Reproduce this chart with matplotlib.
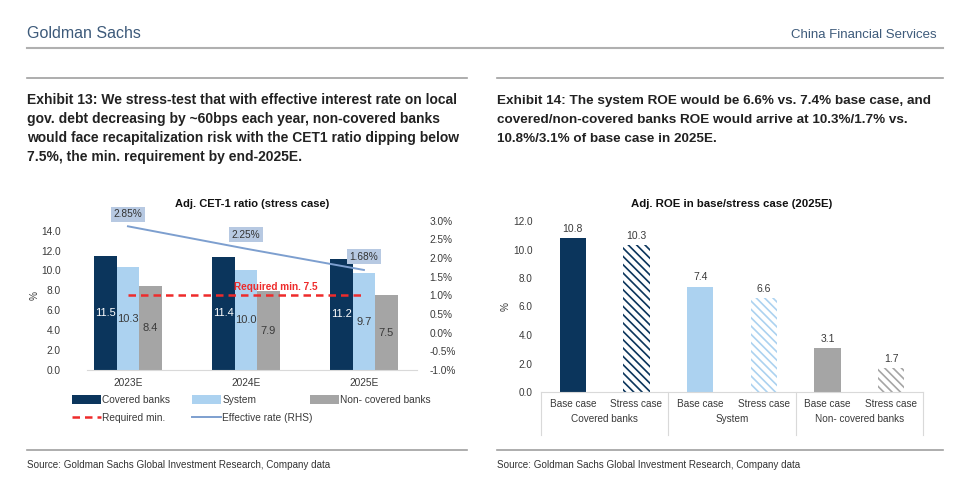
import numpy as np
import matplotlib
matplotlib.use('Agg')
import matplotlib.pyplot as plt
from matplotlib.lines import Line2D

plt.rcParams['font.family'] = ['Liberation Sans', 'DejaVu Sans']
plt.rcParams['hatch.linewidth'] = 1.2

# 左图数据
years = ['2023E', '2024E', '2025E']
covered = [11.5, 11.4, 11.2]
system = [10.3, 10.0, 9.7]
non_covered = [8.4, 7.9, 7.5]
required_min = 7.5
eff_rate = [2.85, 2.25, 1.68]
eff_labels = ['2.85%', '2.25%', '1.68%']

# 右图数据
roe_cases = ['Base case', 'Stress case'] * 3
roe_groups = ['Covered banks', 'System', 'Non- covered banks']
roe_values = [10.8, 10.3, 7.4, 6.6, 3.1, 1.7]

NAVY = '#0b355c'
LIGHT = '#acd2f0'
GRAY = '#a5a5a5'
TXT = '#3a3a3a'
NARROW = ['Liberation Sans Narrow', 'Liberation Sans', 'DejaVu Sans']

fig = plt.figure(figsize=(9.6, 4.93), dpi=100)
W, H = 960, 493


def fx(px):
    return px / W


def fy(py):
    return 1 - py / H


# 页眉
fig.text(fx(27), fy(33), 'Goldman Sachs', family=NARROW, fontsize=11.5, color='#3d5a7a', va='center')
fig.text(fx(937), fy(35), 'China Financial Services', family=NARROW, fontsize=9.5, color='#3d5a7a',
         va='center', ha='right')
fig.add_artist(Line2D([fx(27), fx(943)], [fy(48), fy(48)], color='#b0b0b0', lw=1.5))
for x0, x1 in [(27, 467), (497, 943)]:
    fig.add_artist(Line2D([fx(x0), fx(x1)], [fy(78), fy(78)], color='#a0a0a0', lw=1.2))
    fig.add_artist(Line2D([fx(x0), fx(x1)], [fy(450), fy(450)], color='#a0a0a0', lw=1.2))
    fig.text(fx(x0), fy(465), 'Source: Goldman Sachs Global Investment Research, Company data',
             family=NARROW, fontsize=7.1, color='#333333', va='center')

ex13 = ['Exhibit 13: We stress-test that with effective interest rate on local',
        'gov. debt decreasing by ~60bps each year, non-covered banks',
        'would face recapitalization risk with the CET1 ratio dipping below',
        '7.5%, the min. requirement by end-2025E.']
ex14 = ['Exhibit 14: The system ROE would be 6.6% vs. 7.4% base case, and',
        'covered/non-covered banks ROE would arrive at 10.3%/1.7% vs.',
        '10.8%/3.1% of base case in 2025E.']
for lines, x0, fs in [(ex13, 27, 10), (ex14, 497, 9.7)]:
    for i, line in enumerate(lines):
        fig.text(fx(x0), fy(104 + 19 * i), line, family=NARROW, fontsize=fs, fontweight='bold',
                 color='#222222', va='baseline')

# ---------- 左图 ----------
ax = fig.add_axes([fx(87), fy(370), fx(417) - fx(87), fy(220.7) - fy(370)])
x = np.arange(len(years))
bw = 0.19
b1 = ax.bar(x - bw, covered, bw, color=NAVY, label='Covered banks')
b2 = ax.bar(x, system, bw, color=LIGHT, label='System')
b3 = ax.bar(x + bw, non_covered, bw, color=GRAY, label='Non- covered banks')
for bars, vals, c in [(b1, covered, 'white'), (b2, system, TXT), (b3, non_covered, TXT)]:
    for r, v in zip(bars, vals):
        ax.text(r.get_x() + r.get_width() / 2, v / 2, f'{v:.1f}', ha='center', va='center',
                fontsize=8, color=c)
req, = ax.plot([x[0], x[-1]], [required_min, required_min], color='#ee2b2b', lw=1.8,
               linestyle=(0, (3, 2)), label='Required min.')
ax.text(1.25, 8.3, f'Required min. {required_min}', color='#ee2b2b', fontsize=7.2,
        fontweight='bold', ha='center', va='center')
ax.set_xlim(-0.347, 2.45)
ax.set_ylim(0, 15)
ax.set_yticks(np.arange(0, 15, 2))
ax.set_yticklabels([f'{v:.1f}' for v in np.arange(0, 15, 2)])
ax.set_xticks(x)
ax.set_xticklabels(years)
ax.tick_params(length=0, labelsize=7.3, colors=TXT, pad=6)
ax.tick_params(axis='y', pad=19)
for s in ['top', 'right', 'left']:
    ax.spines[s].set_visible(False)
ax.spines['bottom'].set_color('#d9d9d9')
ax.set_ylabel('%', fontsize=7.3, color=TXT)
ax.yaxis.set_label_coords(-0.144, 0.5)

ax2 = ax.twinx()
ln, = ax2.plot(x, eff_rate, color='#7d9fcf', lw=1.4, label='Effective rate (RHS)')
ax2.set_ylim(-1.0, 3.0)
rt = np.arange(-1.0, 3.01, 0.5)
ax2.set_yticks(rt)
ax2.set_yticklabels([f'{v:.1f}%' for v in rt])
ax2.tick_params(length=0, labelsize=7.3, colors=TXT, pad=9)
for s in ax2.spines.values():
    s.set_visible(False)
lab_y = [3.17, 2.62, 2.03]
for xi, yv, t in zip(x, lab_y, eff_labels):
    ax2.text(xi, yv, t, ha='center', va='center', fontsize=7.3, color='#333333',
             bbox=dict(boxstyle='square,pad=0.25', fc='#b7c9e2', ec='none'))

ax.set_title('Adj. CET-1 ratio (stress case)', fontsize=8, fontweight='bold', color='#111111',
             pad=10)

# 图例：三列分别放置
leg_kw = dict(loc='upper left', frameon=False, fontsize=7.3, handlelength=2.9, handleheight=0.9,
              handletextpad=0.1, borderpad=0, borderaxespad=0, labelspacing=0.75, labelcolor=TXT)
for hs, xpos in [([b1, req], 72), ([b2, ln], 192), ([b3], 310)]:
    fig.legend(hs, [h.get_label() for h in hs], bbox_to_anchor=(fx(xpos), fy(395)), **leg_kw)

# ---------- 右图 ----------
bx = fig.add_axes([fx(541), fy(392), fx(923) - fx(541), fy(221) - fy(392)])
xr = np.arange(len(roe_values))
cols = [NAVY, NAVY, LIGHT, LIGHT, GRAY, GRAY]
for i, (v, c) in enumerate(zip(roe_values, cols)):
    if i % 2 == 0:
        bx.bar(xr[i], v, 0.41, color=c)
    else:
        bx.bar(xr[i], v, 0.41, facecolor='white', edgecolor=c, hatch='\\\\\\\\', lw=0)
    bx.text(xr[i], v + 0.3, f'{v:.1f}', ha='center', va='bottom', fontsize=7.5, color=TXT)
bx.set_xlim(-0.5, 5.5)
bx.set_ylim(0, 12)
yt = np.arange(0, 12.1, 2)
bx.set_yticks(yt)
bx.set_yticklabels([f'{v:.1f}' for v in yt])
bx.set_xticks(xr)
bx.set_xticklabels(roe_cases)
bx.tick_params(length=0, labelsize=7.2, colors=TXT)
bx.tick_params(axis='x', pad=5)
bx.tick_params(axis='y', pad=6)
for s in ['top', 'right', 'left']:
    bx.spines[s].set_visible(False)
bx.spines['bottom'].set_color('#d9d9d9')
bx.set_ylabel('%', fontsize=7.2, color=TXT)
bx.yaxis.set_label_coords(-0.079, 0.5)
trans = bx.get_xaxis_transform()
for sx in [-0.5, 1.5, 3.5, 5.5]:
    bx.plot([sx, sx], [0, -0.25], color='#d9d9d9', lw=0.8, transform=trans, clip_on=False)
for gi, g in enumerate(roe_groups):
    bx.text(2 * gi + 0.5, -0.157, g, transform=trans, ha='center', va='center', fontsize=7.2,
            color=TXT)
bx.set_title('Adj. ROE in base/stress case (2025E)', fontsize=8.2, fontweight='bold',
             color='#111111', pad=10)

fig.savefig('out.png', dpi=100)
